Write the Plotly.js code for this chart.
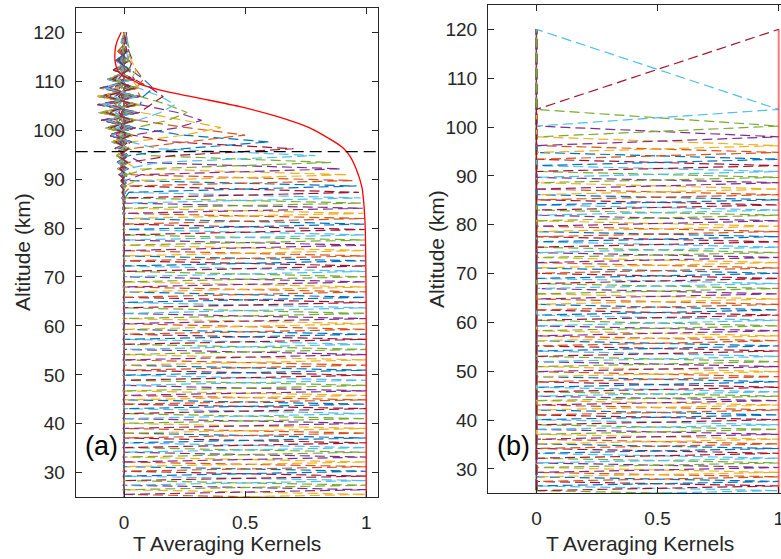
<!DOCTYPE html>
<html><head><meta charset="utf-8">
<script src="https://cdn.plot.ly/plotly-3.0.1.min.js"></script>
<style>html,body{margin:0;padding:0;overflow:hidden;background:#fff}</style>
</head><body><div id="chart" style="width:781px;height:559px"></div>
<script>
// Retrieval altitude grid of panel (b) (km)
const levelsB = [22.7, 23.65, 24.6, 25.57, 26.53, 27.45, 28.4, 29.3, 30.3, 31.25, 32.2, 33.2, 34.2, 35.13, 36.1, 37.1, 38.1, 39.05, 40.1, 41.06, 42.08, 43.1, 44.0, 44.9, 45.8, 46.72, 47.85, 48.9, 49.93, 50.95, 51.97, 53.05, 54.15, 55.2, 56.25, 57.25, 58.3, 59.3, 60.45, 61.5, 62.55, 63.7, 64.8, 65.85, 66.95, 67.95, 69.0, 70.05, 71.15, 72.25, 73.3, 74.3, 75.4, 76.5, 77.55, 78.6, 79.7, 80.8, 81.95, 83.0, 84.05, 85.1, 86.15, 87.3, 88.6, 89.7, 90.9, 92.1, 93.4, 94.8, 96.2, 98.0, 100.2, 103.6, 120.0];
// Retrieval altitude grid of panel (a) (km)
const levelsA = [22.7, 23.65, 24.6, 25.57, 26.53, 27.45, 28.4, 29.3, 30.3, 31.25, 32.2, 33.2, 34.2, 35.13, 36.1, 37.1, 38.1, 39.05, 40.1, 41.06, 42.08, 43.1, 44.0, 44.9, 45.8, 46.72, 47.85, 48.9, 49.93, 50.95, 51.97, 53.05, 54.15, 55.2, 56.25, 57.25, 58.3, 59.3, 60.45, 61.5, 62.55, 63.7, 64.8, 65.85, 66.95, 67.95, 69.0, 70.05, 71.15, 72.25, 73.3, 74.3, 75.4, 76.5, 77.55, 78.6, 79.7, 80.8, 81.95, 83.0, 84.05, 85.1, 86.15, 87.3, 88.6, 89.7, 90.9, 92.1, 93.4, 94.8, 96.2, 97.6, 99.0, 100.5, 102.0, 103.6, 105.2, 106.9, 108.6, 110.4, 112.3, 114.2, 116.1, 118.0, 120.0];
// Kernel peak (diagonal) values of panel (a), one per level
const diagA = [1, 1, 1, 1, 1, 1, 1, 1, 1, 1, 1, 1, 1, 1, 1, 1, 1, 1, 1, 1, 1, 1, 1, 1, 1, 1, 1, 1, 1, 1, 1, 1, 1, 1, 1, 1, 1, 1, 1, 1, 1, 1, 1, 1, 1, 1, 1, 1,
  0.999, 0.999, 0.998, 0.998, 0.997, 0.997, 0.996, 0.995, 0.994,
  0.993, 0.991, 0.989, 0.986, 0.982, 0.977, 0.97, 0.96, 0.945, 0.925, 0.895, 0.855, 0.79,
  0.7, 0.6, 0.5, 0.4, 0.32, 0.26, 0.21, 0.16, 0.12, 0.08, 0.05, 0.035, 0.025, 0.015, 0.01];
// Kernel value at the neighbouring levels (kernel half-width) of panel (a)
const sideA = [0, 0, 0, 0, 0, 0, 0, 0, 0, 0, 0, 0, 0, 0, 0, 0, 0, 0, 0, 0, 0, 0, 0, 0, 0, 0, 0, 0, 0, 0, 0, 0, 0, 0, 0, 0, 0, 0, 0, 0, 0, 0, 0, 0, 0, 0, 0, 0, 0, 0, 0, 0, 0, 0, 0, 0, 0, 0, 0, 0, 0, 0, 0,
  0.01, 0.02, 0.03, 0.05, 0.07, 0.1, 0.14,
  0.2, 0.24, 0.26, 0.25, 0.22, 0.18, 0.15, 0.11, 0.08, 0.05, 0.03, 0.02, 0.015, 0.01, 0.005];
// Amplitude of the side-lobe ringing at each altitude (row) of panel (a)
const tailA = [0.003, 0.003, 0.003, 0.003, 0.003, 0.003, 0.003, 0.003, 0.003, 0.003, 0.003, 0.003, 0.003, 0.003, 0.003, 0.003, 0.003, 0.003, 0.003, 0.003, 0.003, 0.003, 0.003, 0.003, 0.003, 0.003, 0.003, 0.003, 0.003, 0.003, 0.003, 0.003, 0.003, 0.003, 0.003, 0.003, 0.003, 0.003, 0.003, 0.003, 0.003, 0.003, 0.003, 0.003, 0.003, 0.003, 0.003, 0.003, 0.003, 0.003, 0.003, 0.003, 0.003, 0.003, 0.003, 0.003, 0.003, 0.003, 0.003,
  0.004, 0.005, 0.006, 0.008, 0.01, 0.013, 0.016, 0.02, 0.025, 0.03, 0.035,
  0.04, 0.05, 0.065, 0.08, 0.095, 0.105, 0.11, 0.11, 0.1, 0.07, 0.045, 0.035, 0.025, 0.012, 0.004];
// Ringing weight of each kernel (column) of panel (a)
const ringA = [0, 0, 0, 0, 0, 0, 0, 0, 0, 0, 0, 0, 0, 0, 0, 0, 0, 0, 0, 0, 0, 0, 0, 0, 0, 0, 0, 0, 0, 0, 0, 0, 0, 0, 0, 0, 0, 0,
  0.1, 0.1, 0.1, 0.1, 0.1, 0.1, 0.1, 0.1, 0.1, 0.1,
  0.2, 0.2, 0.2, 0.2, 0.2, 0.2, 0.2, 0.2, 0.2,
  0.35, 0.35, 0.35, 0.35, 0.35, 0.35,
  0.5, 0.55, 0.6, 0.65, 0.7, 0.75, 0.8,
  0.85, 0.9, 0.95, 1, 1, 1, 1, 1, 1, 1, 1, 1, 0.9, 0.8, 0.7];
// Measurement response of panel (a) (red curve)
const respAlt = [120, 118, 116.4, 114, 112, 111.1, 110.3, 109.4, 108.2, 106.5, 104.8, 102.8, 100.4, 97.3, 96.3, 94.6, 91.9, 88.4, 85.7, 80, 70, 60, 22.7];
const respVal = [-0.012, -0.03, -0.037, -0.037, -0.024, -0.003, 0.032, 0.066, 0.149, 0.314, 0.479, 0.631, 0.769, 0.879, 0.906, 0.934, 0.96, 0.982, 0.989, 0.996, 0.999, 1.0, 1.0];
const thresholdAlt = 95.6;
const xTicks = [0, 0.5, 1];
const xTickText = ['0', '0.5', '1'];
const yTicks = [30, 40, 50, 60, 70, 80, 90, 100, 110, 120];
const palette = ['#0072BD', '#D95319', '#EDB120', '#7E2F8E', '#77AC30', '#4DBEEE', '#A2142F'];

const FONT = 'Liberation Sans, Arial, Helvetica, sans-serif';
const AX = '#262626';
const DASH = '10px,5px';
const LW = 1.2;
const traces = [];

function colorFor(k, n) {
  const off = ((6 - (n - 1)) % 7 + 7) % 7;
  return palette[(k + off) % 7];
}

// Panel (a): averaging kernels built from diagonal, side and ringing arrays
const nA = levelsA.length;
for (let k = 0; k < nA; k++) {
  const xs = [];
  for (let i = 0; i < nA; i++) {
    const d = Math.abs(i - k);
    let v;
    if (d === 0) v = diagA[k];
    else if (d === 1) v = sideA[k];
    else v = ringA[k] * tailA[i] * (((i + k) % 2) ? -1 : 0.6);
    xs.push(v);
  }
  traces.push({type: 'scatter', mode: 'lines', x: xs, y: levelsA, xaxis: 'x', yaxis: 'y',
    line: {color: colorFor(k, nA), width: LW, dash: DASH}, hoverinfo: 'skip'});
}
traces.push({type: 'scatter', mode: 'lines', x: respVal, y: respAlt, xaxis: 'x', yaxis: 'y',
  line: {color: '#ff0000', width: 1.3, shape: 'spline', smoothing: 0.6}, hoverinfo: 'skip'});

// Panel (b): ideal (identity) averaging kernels
const nB = levelsB.length;
const rowSumB = levelsB.map(() => 0);
for (let k = 0; k < nB; k++) {
  const xs = levelsB.map((_, i) => (i === k ? 1 : 0));
  xs.forEach((v, i) => { rowSumB[i] += v; });
  traces.push({type: 'scatter', mode: 'lines', x: xs, y: levelsB, xaxis: 'x2', yaxis: 'y2',
    line: {color: colorFor(k, nB), width: LW, dash: DASH}, hoverinfo: 'skip'});
}
traces.push({type: 'scatter', mode: 'lines', x: rowSumB, y: levelsB, xaxis: 'x2', yaxis: 'y2',
  line: {color: 'rgba(255,0,0,0.55)', width: 2}, hoverinfo: 'skip'});

const xBase = {tickvals: xTicks, ticktext: xTickText, ticks: 'inside', ticklen: 6, tickwidth: 1, tickcolor: AX,
  showline: true, linecolor: AX, linewidth: 1, zeroline: false, showgrid: false, automargin: false,
  tickfont: {family: FONT, size: 19, color: AX}, ticklabelstandoff: 8, ticklabeloverflow: 'allow'};
const yBase = {tickvals: yTicks, ticks: 'inside', ticklen: 6, tickwidth: 1, tickcolor: AX,
  showline: true, linecolor: AX, linewidth: 1, zeroline: false, showgrid: false, automargin: false,
  range: [25, 125], tickfont: {family: FONT, size: 19, color: AX}, ticklabelstandoff: 6};

const W = 781, H = 559;
const px = v => v / W, py = v => 1 - v / H;
const layout = {
  width: W, height: H, margin: {l: 0, r: 0, t: 0, b: 0}, showlegend: false,
  paper_bgcolor: '#fff', plot_bgcolor: '#fff', hovermode: false,
  xaxis: Object.assign({}, xBase, {domain: [px(75.7), px(378.3)], range: [-0.2, 1.05], anchor: 'y', mirror: 'ticks'}),
  yaxis: Object.assign({}, yBase, {domain: [py(497.2), py(7.8)], anchor: 'x', mirror: 'ticks'}),
  xaxis2: Object.assign({}, xBase, {domain: [px(488), 1], range: [-0.2, 1.0095], anchor: 'y2', mirror: 'ticks'}),
  yaxis2: Object.assign({}, yBase, {domain: [py(493.4), py(4.9)], anchor: 'x2', mirror: false}),
  shapes: [{type: 'line', xref: 'x domain', yref: 'y', x0: 0, x1: 1, y0: thresholdAlt, y1: thresholdAlt,
    line: {color: '#000', width: 1.2, dash: '12px,6px'}}],
  annotations: [
    {text: '(a)', x: px(101.5), y: py(446), xref: 'paper', yref: 'paper', showarrow: false, xanchor: 'center', yanchor: 'middle', font: {family: FONT, size: 27, color: '#000'}},
    {text: '(b)', x: px(513.5), y: py(446), xref: 'paper', yref: 'paper', showarrow: false, xanchor: 'center', yanchor: 'middle', font: {family: FONT, size: 27, color: '#000'}},
    {text: 'T Averaging Kernels', x: px(227), y: py(543), xref: 'paper', yref: 'paper', showarrow: false, xanchor: 'center', yanchor: 'middle', font: {family: FONT, size: 21, color: AX}},
    {text: 'T Averaging Kernels', x: px(640), y: py(543), xref: 'paper', yref: 'paper', showarrow: false, xanchor: 'center', yanchor: 'middle', font: {family: FONT, size: 21, color: AX}},
    {text: 'Altitude (km)', x: px(22), y: py(252), xref: 'paper', yref: 'paper', showarrow: false, xanchor: 'center', yanchor: 'middle', textangle: -90, font: {family: FONT, size: 21, color: AX}},
    {text: 'Altitude (km)', x: px(437), y: py(249), xref: 'paper', yref: 'paper', showarrow: false, xanchor: 'center', yanchor: 'middle', textangle: -90, font: {family: FONT, size: 21, color: AX}}
  ]
};
Plotly.newPlot('chart', traces, layout, {staticPlot: true, displayModeBar: false});
</script></body></html>
